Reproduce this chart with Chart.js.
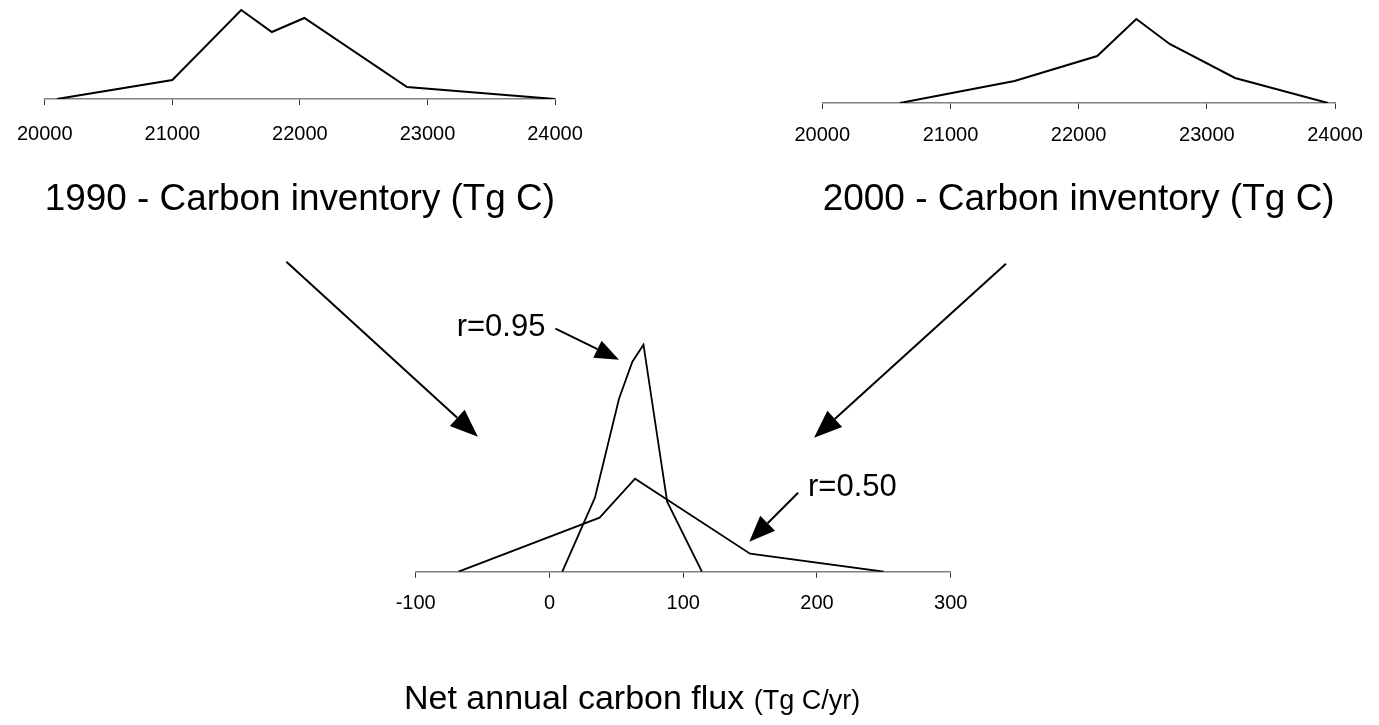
<!DOCTYPE html>
<html>
<head>
<meta charset="utf-8">
<script src="https://cdn.jsdelivr.net/npm/chart.js@4.4.1/dist/chart.umd.min.js"></script>
<style>
  html, body { margin: 0; padding: 0; background: #fff; }
  body { width: 1379px; height: 725px; position: relative; overflow: hidden; }
  canvas { position: absolute; }
  #inv1990 { left: 0; top: 0; }
  #inv2000 { left: 780px; top: 0; }
  #flux { left: 0; top: 240px; }
</style>
</head>
<body>
<canvas id="flux" width="1379" height="485"></canvas>
<canvas id="inv1990" width="600" height="230"></canvas>
<canvas id="inv2000" width="599" height="230"></canvas>
<script>
// 1990 carbon inventory (Tg C) vs relative frequency
const inv1990X = [20095, 21000, 21540, 21780, 22035, 22840, 24000]
const inv1990Y = [0, 1.9, 8.9, 6.7, 8.1, 1.2, 0]

// 2000 carbon inventory
const inv2000X = [20605, 21500, 22145, 22450, 22710, 23220, 23945]
const inv2000Y = [0, 2.2, 4.7, 8.4, 5.9, 2.5, 0]

// net annual flux (Tg C/yr), r=0.95 and r=0.50
const fluxHighX = [9.6, 34, 52, 62, 70.3, 88, 114]
const fluxHighY = [0, 7.4, 17.3, 21.0, 22.7, 7.0, 0]
const fluxLowX = [-68, 37.5, 64, 150, 250]
const fluxLowY = [0, 5.4, 9.3, 1.8, 0]

const inventoryTicks = [20000, 21000, 22000, 23000, 24000]
const fluxTicks = [-100, 0, 100, 200, 300]

// arrows + labels, in flux-chart data units
const arrows = [
    {from: [-196.7, 31.0], to: [-53.5, 13.5], len: 28, wid: 22},
    {from: [341.3, 30.8], to: [197.8, 13.4], len: 28, wid: 22},
    {from: [4.5, 24.3], to: [52, 21.2], len: 24, wid: 19},
    {from: [185.9, 7.9], to: [149.4, 3.0], len: 26, wid: 21}
]
const rLabels = [
    {text: 'r=0.95', at: [-3, 24.4], align: 'right'},
    {text: 'r=0.50', at: [193.3, 8.4], align: 'left'}
]

const FONT = 'Arial, "Liberation Sans", Helvetica, sans-serif'

const toPoints = (xs, ys) => xs.map((x, i) => ({x, y: ys[i]}))

const makeXScale = (ticks, {min, max, axisHeight, tickPad, title, titleAlign}) => ({
    type: 'linear', min, max,
    afterBuildTicks: (scale) => { scale.ticks = ticks.map(value => ({value})) },
    afterFit: (scale) => { scale.height = axisHeight },
    border: {display: true, color: '#808080', width: 1.5},
    grid: {drawOnChartArea: false, drawTicks: true, tickLength: 6, color: '#333', lineWidth: 1},
    ticks: {
        color: '#000', font: {family: FONT, size: 20}, padding: tickPad,
        maxRotation: 0, autoSkip: false, callback: v => String(v)
    },
    title: title
        ? {display: true, text: title, align: titleAlign || 'center', color: '#000',
           font: {family: FONT, size: 37}, padding: {top: 0, bottom: 8}}
        : {display: false}
})

const lineStyle = {borderColor: '#000', borderWidth: 2, pointRadius: 0, tension: 0, fill: false}
const baseOptions = {
    responsive: false,
    animation: false,
    events: [],
    plugins: {legend: {display: false}, tooltip: {enabled: false}}
}

new Chart(document.getElementById('inv1990'), {
    type: 'line',
    data: {datasets: [{data: toPoints(inv1990X, inv1990Y), ...lineStyle}]},
    options: {
        ...baseOptions,
        layout: {padding: {left: 37.7, right: 45, top: 0, bottom: 0}},
        scales: {
            x: makeXScale(inventoryTicks, {min: 20000, max: 24000, axisHeight: 131, tickPad: 17,
                title: '1990 - Carbon inventory (Tg C)', titleAlign: 'start'}),
            y: {display: false, min: 0, max: 9.9}
        }
    }
})

new Chart(document.getElementById('inv2000'), {
    type: 'line',
    data: {datasets: [{data: toPoints(inv2000X, inv2000Y), ...lineStyle}]},
    options: {
        ...baseOptions,
        layout: {padding: {left: 36.7, right: 44, top: 0, bottom: 0}},
        scales: {
            x: makeXScale(inventoryTicks, {min: 20000, max: 24000, axisHeight: 127, tickPad: 14.5,
                title: '2000 - Carbon inventory (Tg C)'}),
            y: {display: false, min: 0, max: 10.3}
        }
    }
})

const drawArrow = (ctx, x1, y1, x2, y2, len, wid) => {
    const a = Math.atan2(y2 - y1, x2 - x1)
    const bx = x2 - len * Math.cos(a), by = y2 - len * Math.sin(a)
    ctx.beginPath()
    ctx.moveTo(x1, y1)
    ctx.lineTo(bx, by)
    ctx.stroke()
    ctx.beginPath()
    ctx.moveTo(x2, y2)
    ctx.lineTo(bx + wid / 2 * Math.sin(a), by - wid / 2 * Math.cos(a))
    ctx.lineTo(bx - wid / 2 * Math.sin(a), by + wid / 2 * Math.cos(a))
    ctx.closePath()
    ctx.fill()
}

const fluxNotes = {
    id: 'fluxNotes',
    afterDraw(chart) {
        const {ctx, scales: {x, y}} = chart
        ctx.save()
        ctx.strokeStyle = '#000'
        ctx.fillStyle = '#000'
        ctx.lineWidth = 2
        arrows.forEach(({from, to, len, wid}) => {
            drawArrow(ctx,
                x.getPixelForValue(from[0]), y.getPixelForValue(from[1]),
                x.getPixelForValue(to[0]), y.getPixelForValue(to[1]), len, wid)
        })
        ctx.font = `31px ${FONT}`
        ctx.textBaseline = 'middle'
        rLabels.forEach(({text, at, align}) => {
            ctx.textAlign = align
            ctx.fillText(text, x.getPixelForValue(at[0]), y.getPixelForValue(at[1]))
        })

        // axis title, two font sizes
        const big = 'Net annual carbon flux '
        const small = '(Tg C/yr)'
        ctx.textAlign = 'left'
        ctx.textBaseline = 'alphabetic'
        ctx.font = `34px ${FONT}`
        const w1 = ctx.measureText(big).width
        const left = 404, base = 469
        ctx.fillText(big, left, base)
        ctx.font = `27px ${FONT}`
        ctx.fillText(small, left + w1, base)
        ctx.restore()
    }
}

new Chart(document.getElementById('flux'), {
    type: 'line',
    data: {
        datasets: [
            {data: toPoints(fluxHighX, fluxHighY), ...lineStyle, borderWidth: 1.8},
            {data: toPoints(fluxLowX, fluxLowY), ...lineStyle, borderWidth: 1.8}
        ]
    },
    options: {
        ...baseOptions,
        layout: {padding: {left: 415.7, right: 428.3, top: 31.7, bottom: 0}},
        scales: {
            x: makeXScale(fluxTicks, {min: -100, max: 300, axisHeight: 153.3, tickPad: 13.3}),
            y: {display: false, min: 0, max: 30}
        }
    },
    plugins: [fluxNotes]
})
</script>
</body>
</html>
